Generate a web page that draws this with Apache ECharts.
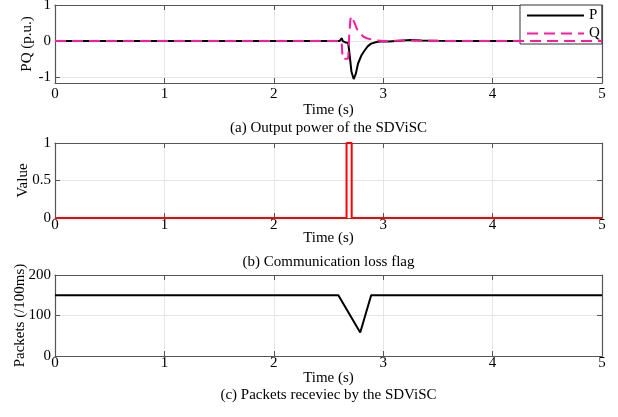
<!DOCTYPE html>
<html>
<head>
<meta charset="utf-8">
<script src="https://cdn.jsdelivr.net/npm/echarts@6/dist/echarts.min.js"></script>
<style>html,body{margin:0;padding:0;background:#fff}#c{width:618px;height:417px}</style>
</head>
<body>
<div id="c"></div>
<script>
// ---- data ----
const tP = [0, 2.60, 2.615, 2.622, 2.63, 2.64, 2.66, 2.68, 2.69, 2.71, 2.73, 2.75, 2.77, 2.80, 2.83, 2.86, 2.89, 2.93, 2.97, 3.05, 3.15, 3.25, 3.35, 3.5, 3.7, 5];
const vP = [0, 0, 0.02, 0.08, 0.0, -0.03, -0.04, -0.05, -0.3, -0.85, -1.05, -0.9, -0.62, -0.4, -0.26, -0.14, -0.07, -0.03, -0.01, -0.01, 0.01, 0.03, 0.02, 0.01, 0, 0];
const tQ = [0, 2.62, 2.625, 2.63, 2.68, 2.69, 2.70, 2.71, 2.72, 2.74, 2.76, 2.79, 2.82, 2.85, 2.90, 2.94, 3.0, 3.2, 3.4, 3.6, 5];
const vQ = [0, 0, -0.3, -0.49, -0.49, 0.2, 0.6, 0.69, 0.65, 0.49, 0.33, 0.21, 0.12, 0.08, 0.04, 0.02, 0.0, 0.02, 0.01, 0, 0];
const tFlag = [0, 2.665, 2.665, 2.712, 2.712, 5];
const vFlag = [0, 0, 1, 1, 0, 0];
const tPk = [0, 2.59, 2.79, 2.89, 5];
const vPk = [150, 150, 58, 150, 150];
const xTicks = [0, 1, 2, 3, 4, 5];
const yTicks1 = [-1, 0, 1];
const captions = ['(a) Output power of the SDViSC', '(b) Communication loss flag', '(c) Packets receviec by the SDViSC'];
const yNames = ['PQ (p.u.)', 'Value', 'Packets (/100ms)'];

const zip = (a, b) => a.map((t, i) => [t, b[i]]);
const FONT = 'Liberation Serif, "Times New Roman", serif';
const frameColor = '#555';
const gridColor = '#e6e6e6';

const grids = [
  {left: 55, top: 5, width: 547, height: 78, outerBoundsMode: 'none', containLabel: false},
  {left: 55, top: 143, width: 547, height: 75, outerBoundsMode: 'none', containLabel: false},
  {left: 55, top: 275, width: 547, height: 81, outerBoundsMode: 'none', containLabel: false}
];
const xNameGap = [20, 13, 15];
const xLabelMargin = [4, 0, 0];
const yNameGap = [20, 24, 27];

const xAxis = [], yAxis = [];
grids.forEach((g, i) => {
  xAxis.push({
    type: 'value', gridIndex: i, min: 0, max: 5, interval: 1, position: 'bottom',
    name: 'Time (s)', nameLocation: 'middle', nameGap: xNameGap[i], nameMoveOverlap: false,
    nameTextStyle: {fontFamily: FONT, fontSize: 15, color: '#000'},
    axisLine: {show: true, onZero: false, lineStyle: {color: frameColor, width: 1.2}},
    axisTick: {show: true, inside: true, length: 5, lineStyle: {color: frameColor}},
    axisLabel: {show: true, margin: xLabelMargin[i], fontFamily: FONT, fontSize: 15, color: '#000'},
    splitLine: {show: true, lineStyle: {color: gridColor, width: 1}}
  });
  xAxis.push({
    type: 'value', gridIndex: i, min: 0, max: 5, interval: 1, position: 'top',
    axisLine: {show: true, onZero: false, lineStyle: {color: frameColor, width: 1.2}},
    axisTick: {show: true, inside: true, length: 5, lineStyle: {color: frameColor}},
    axisLabel: {show: false}, splitLine: {show: false}
  });
});
const yCfg = [
  {min: -1.16, max: 1, custom: yTicks1},
  {min: 0, max: 1, interval: 0.5},
  {min: 0, max: 200, interval: 100}
];
yCfg.forEach((c, i) => {
  const base = {type: 'value', gridIndex: i, min: c.min, max: c.max};
  if (c.interval) base.interval = c.interval;
  const tick = {show: true, inside: true, length: 5, lineStyle: {color: frameColor}};
  const lab = {show: true, margin: 4, fontFamily: FONT, fontSize: 15, color: '#000'};
  if (c.custom) { tick.customValues = c.custom; lab.customValues = c.custom; }
  yAxis.push(Object.assign({}, base, {
    position: 'left', name: yNames[i], nameLocation: 'middle', nameGap: yNameGap[i], nameMoveOverlap: false,
    nameTextStyle: {fontFamily: FONT, fontSize: 15, color: '#000'},
    axisLine: {show: true, onZero: false, lineStyle: {color: frameColor, width: 1.2}},
    axisTick: tick, axisLabel: lab,
    splitLine: {show: true, lineStyle: {color: gridColor, width: 1}}
  }));
  yAxis.push(Object.assign({}, base, {
    position: 'right',
    axisLine: {show: true, onZero: false, lineStyle: {color: frameColor, width: 1.2}},
    axisTick: Object.assign({}, tick), axisLabel: {show: false}, splitLine: {show: false}
  }));
});

const option = {
  animation: false,
  backgroundColor: '#fff',
  grid: grids,
  xAxis: xAxis,
  yAxis: yAxis,
  legend: {
    data: ['P', 'Q'], orient: 'vertical', left: 520, top: 5,
    backgroundColor: '#fff', borderColor: '#333', borderWidth: 1,
    padding: [3, 2, 3, 6], itemWidth: 57, itemHeight: 12, itemGap: 3,
    itemStyle: {opacity: 0},
    textStyle: {fontFamily: FONT, fontSize: 15, color: '#000'}
  },
  series: [
    {name: 'P', type: 'line', xAxisIndex: 0, yAxisIndex: 0, data: zip(tP, vP), showSymbol: false, symbol: 'none',
      lineStyle: {color: '#000', width: 2}, itemStyle: {color: '#000'}, z: 3},
    {name: 'Q', type: 'line', xAxisIndex: 0, yAxisIndex: 0, data: zip(tQ, vQ), showSymbol: false, symbol: 'none',
      lineStyle: {color: '#ff1aa0', width: 2, type: [11, 6]}, itemStyle: {color: '#ff1aa0'}, z: 4},
    {name: 'Flag', type: 'line', xAxisIndex: 2, yAxisIndex: 2, data: zip(tFlag, vFlag), showSymbol: false, symbol: 'none',
      lineStyle: {color: '#ff0000', width: 2}, itemStyle: {color: '#ff0000'}},
    {name: 'Packets', type: 'line', xAxisIndex: 4, yAxisIndex: 4, data: zip(tPk, vPk), showSymbol: false, symbol: 'none',
      lineStyle: {color: '#000', width: 2}, itemStyle: {color: '#000'}}
  ],
  graphic: captions.map((t, i) => ({
    type: 'text', x: 328.5, y: [128, 262, 395][i],
    style: {text: t, fontFamily: FONT, fontSize: 15, fill: '#000', align: 'center', verticalAlign: 'middle'}
  }))
};

const chart = echarts.init(document.getElementById('c'), null, {renderer: 'canvas'});
chart.setOption(option);
</script>
</body>
</html>
